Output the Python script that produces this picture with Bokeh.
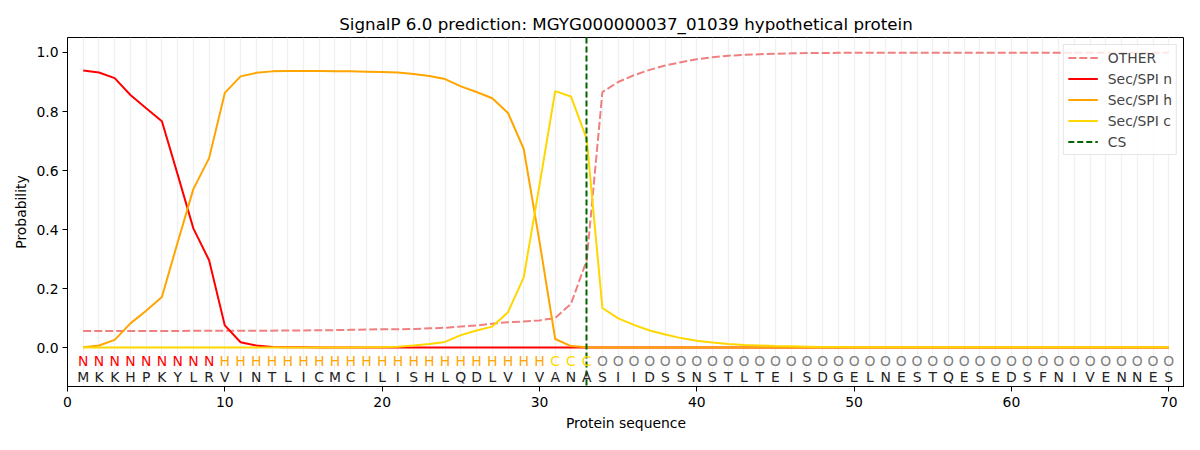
from bokeh.plotting import figure
from bokeh.models import Range1d, FixedTicker, Legend, LegendItem, CustomJSTickFormatter
from bokeh.core.properties import value
from bokeh.embed import file_html
from bokeh.resources import INLINE

sequence = list("MKKHPKYLRVINTLICMCILISHLQDLVIVANASIIDSSNSTLTEISDGELNESTQESEDSFNIVENNES")
labels = list("N" * 9 + "H" * 21 + "C" * 3 + "O" * 37)
positions = list(range(1, len(sequence) + 1))
cs_position = [33]

other = [0.056, 0.056, 0.056, 0.056, 0.056, 0.056, 0.056, 0.057, 0.057, 0.057,
         0.057, 0.057, 0.057, 0.058, 0.058, 0.059, 0.059, 0.060, 0.061, 0.062,
         0.062, 0.063, 0.065, 0.067, 0.071, 0.075, 0.081, 0.086, 0.088, 0.092,
         0.100, 0.148, 0.295, 0.866, 0.900, 0.923, 0.941, 0.956, 0.967, 0.977,
         0.984, 0.989, 0.992, 0.994, 0.996, 0.997, 0.998, 0.998, 0.999, 0.999,
         0.999, 0.999, 0.999, 0.999, 0.999, 0.999, 0.999, 0.999, 0.999, 0.999,
         0.999, 0.999, 0.999, 0.999, 0.999, 0.999, 0.999, 0.999, 0.999, 0.999]
sp_n = [0.939, 0.932, 0.913, 0.856, 0.811, 0.767, 0.587, 0.404, 0.296, 0.075,
        0.018, 0.007, 0.002, 0.001, 0.001, 0.0, 0.0, 0.0, 0.0, 0.0,
        0.0, 0.0, 0.0, 0.0, 0.0, 0.0, 0.0, 0.0, 0.0, 0.0,
        0.0, 0.0, 0.0, 0.0, 0.0, 0.0, 0.0, 0.0, 0.0, 0.0,
        0.0, 0.0, 0.0, 0.0, 0.0, 0.0, 0.0, 0.0, 0.0, 0.0,
        0.0, 0.0, 0.0, 0.0, 0.0, 0.0, 0.0, 0.0, 0.0, 0.0,
        0.0, 0.0, 0.0, 0.0, 0.0, 0.0, 0.0, 0.0, 0.0, 0.0]
sp_h = [0.001, 0.007, 0.026, 0.082, 0.125, 0.171, 0.356, 0.537, 0.642, 0.863,
        0.919, 0.931, 0.936, 0.937, 0.937, 0.937, 0.936, 0.936, 0.935, 0.934,
        0.932, 0.927, 0.920, 0.910, 0.885, 0.866, 0.845, 0.795, 0.673, 0.360,
        0.029, 0.005, 0.001, 0.0, 0.0, 0.0, 0.0, 0.0, 0.0, 0.0,
        0.0, 0.0, 0.0, 0.0, 0.0, 0.0, 0.0, 0.0, 0.0, 0.0,
        0.0, 0.0, 0.0, 0.0, 0.0, 0.0, 0.0, 0.0, 0.0, 0.0,
        0.0, 0.0, 0.0, 0.0, 0.0, 0.0, 0.0, 0.0, 0.0, 0.0]
sp_c = [0.0, 0.0, 0.0, 0.0, 0.0, 0.0, 0.0, 0.0, 0.0, 0.0,
        0.0, 0.0, 0.0, 0.0, 0.0, 0.0, 0.0, 0.0, 0.001, 0.001,
        0.003, 0.007, 0.012, 0.019, 0.042, 0.058, 0.071, 0.120, 0.238, 0.550,
        0.869, 0.851, 0.707, 0.134, 0.099, 0.077, 0.058, 0.044, 0.032, 0.023,
        0.017, 0.012, 0.009, 0.007, 0.005, 0.004, 0.003, 0.002, 0.002, 0.001,
        0.001, 0.001, 0.001, 0.001, 0.001, 0.001, 0.001, 0.001, 0.001, 0.001,
        0.001, 0.001, 0.001, 0.001, 0.001, 0.001, 0.001, 0.001, 0.001, 0.001]

x_ticks = [0, 10, 20, 30, 40, 50, 60, 70]
y_ticks = [0.0, 0.2, 0.4, 0.6, 0.8, 1.0]
label_colors = {"N": "red", "H": "orange", "C": "gold", "O": "gray"}

FONT = "DejaVu Sans"

p = figure(width=1184, height=434,
           min_border_left=67, min_border_right=0, min_border_top=37, min_border_bottom=48,
           x_range=Range1d(0, 71), y_range=Range1d(-0.132, 1.0508),
           output_backend="svg", toolbar_location=None,
           title="SignalP 6.0 prediction: MGYG000000037_01039 hypothetical protein")

p.title.align = "center"
p.title.text_font = FONT
p.title.text_font_size = "16.7px"
p.title.text_font_style = "normal"
p.title.text_color = "black"
p.title.standoff = 7

p.outline_line_color = "black"
p.outline_line_width = 1
p.background_fill_color = "white"
p.border_fill_color = "white"

p.ygrid.visible = False
p.xgrid.ticker = FixedTicker(ticks=positions)
p.xgrid.grid_line_color = "#f0f0f0"
p.xgrid.grid_line_width = 1.3

for ax in (p.xaxis[0], p.yaxis[0]):
    ax.major_label_text_font = FONT
    ax.major_label_text_font_size = "13.9px"
    ax.major_label_text_color = "black"
    ax.axis_label_text_font = FONT
    ax.axis_label_text_font_size = "13.9px"
    ax.axis_label_text_font_style = "normal"
    ax.axis_label_text_color = "black"
    ax.minor_tick_line_color = None
    ax.major_tick_in = 0
    ax.major_tick_out = 5
    ax.axis_line_color = "black"
    ax.major_tick_line_color = "black"

p.xaxis.ticker = FixedTicker(ticks=x_ticks)
p.yaxis.ticker = FixedTicker(ticks=y_ticks)
p.yaxis.formatter = CustomJSTickFormatter(code="return tick.toFixed(1);")
p.xaxis.axis_label = "Protein sequence"
p.yaxis.axis_label = "Probability"
p.xaxis.major_label_standoff = 5
p.xaxis.axis_label_standoff = 5
p.yaxis.major_label_standoff = 4
p.yaxis.axis_label_standoff = 4

r_other = p.line(positions, other, line_color="lightcoral", line_width=2, line_dash="8 3")
r_n = p.line(positions, sp_n, line_color="red", line_width=2)
r_h = p.line(positions, sp_h, line_color="orange", line_width=2)
r_c = p.line(positions, sp_c, line_color="gold", line_width=2)
r_cs = p.vspan(x=cs_position, line_color="darkgreen", line_width=2, line_dash="6 3")

p.text(x=positions, y=[-0.046] * len(positions), text=labels,
       text_color=[label_colors[l] for l in labels],
       text_font=value(FONT), text_font_size="13.9px",
       text_align="center", text_baseline="middle")
p.text(x=positions, y=[-0.1] * len(positions), text=sequence,
       text_color="#222222",
       text_font=value(FONT), text_font_size="13.9px",
       text_align="center", text_baseline="middle")

legend = Legend(items=[
    LegendItem(label="OTHER", renderers=[r_other]),
    LegendItem(label="Sec/SPI n", renderers=[r_n]),
    LegendItem(label="Sec/SPI h", renderers=[r_h]),
    LegendItem(label="Sec/SPI c", renderers=[r_c]),
    LegendItem(label="CS", renderers=[r_cs]),
], location="top_right")
legend.label_text_font = FONT
legend.label_text_font_size = "13.9px"
legend.label_height = 17
legend.glyph_height = 17
legend.glyph_width = 30
legend.spacing = 4
legend.padding = 4
legend.margin = 7
legend.border_line_color = "#cccccc"
legend.border_line_width = 1
legend.background_fill_alpha = 0.8
legend.label_standoff = 10
p.add_layout(legend)

open("out.html", "w").write(file_html(p, INLINE))
